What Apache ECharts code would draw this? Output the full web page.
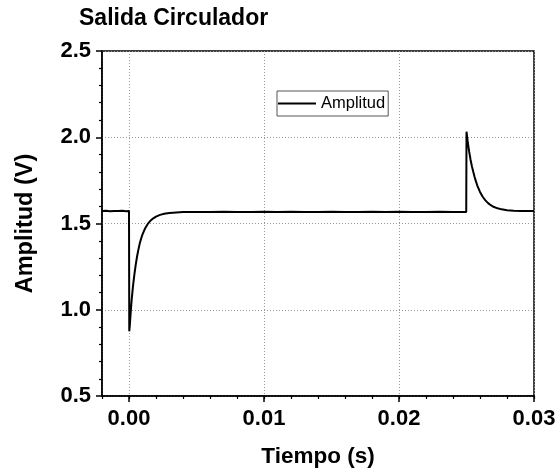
<!DOCTYPE html>
<html>
<head>
<meta charset="utf-8">
<script src="https://cdn.jsdelivr.net/npm/echarts@6/dist/echarts.min.js"></script>
<style>
html,body{margin:0;padding:0;background:#fff;}
#chart{width:559px;height:474px;}
</style>
</head>
<body>
<div id="chart"></div>
<script>
// ---- data ----
const titleText = 'Salida Circulador';
const xAxisName = 'Tiempo (s)';
const yAxisName = 'Amplitud (V)';
const seriesName = 'Amplitud';

const xTickLabels = [0.00, 0.01, 0.02, 0.03];
const yTickLabels = [0.5, 1.0, 1.5, 2.0, 2.5];

const timeValues = [
  -0.002, -0.0017, -0.0014, -0.0011, -0.0008, -0.0005, -0.0002, 0.0,
  0.00002, 0.00005, 0.0001, 0.00015, 0.0002, 0.0003, 0.0004, 0.0005,
  0.0006, 0.0007, 0.0008, 0.0009, 0.001, 0.0012, 0.0014, 0.0016,
  0.0018, 0.002, 0.0023, 0.0026, 0.003, 0.0035, 0.004, 0.005,
  0.006, 0.007, 0.008, 0.009, 0.010, 0.011, 0.012, 0.013,
  0.014, 0.015, 0.016, 0.017, 0.018, 0.019, 0.020, 0.021,
  0.022, 0.023, 0.024, 0.02498, 0.025, 0.02505, 0.0251, 0.0252,
  0.0253, 0.0254, 0.0255, 0.0256, 0.0257, 0.0258, 0.026, 0.0262,
  0.0264, 0.0266, 0.0268, 0.027, 0.0273, 0.0276, 0.028, 0.0285,
  0.029, 0.0295, 0.030
];
const amplitudeValues = [
  1.572, 1.574, 1.571, 1.573, 1.572, 1.574, 1.571, 1.573,
  0.875, 0.900, 0.955, 1.010, 1.060, 1.140, 1.205, 1.262,
  1.310, 1.350, 1.385, 1.413, 1.437, 1.473, 1.499, 1.517,
  1.530, 1.540, 1.550, 1.556, 1.561, 1.564, 1.566, 1.567,
  1.566, 1.568, 1.567, 1.566, 1.568, 1.567, 1.568, 1.566,
  1.567, 1.568, 1.567, 1.566, 1.568, 1.567, 1.568, 1.567,
  1.566, 1.568, 1.567, 1.567, 2.032, 2.000, 1.968, 1.915,
  1.870, 1.832, 1.800, 1.770, 1.744, 1.720, 1.683, 1.655,
  1.634, 1.618, 1.606, 1.597, 1.588, 1.582, 1.577, 1.574,
  1.573, 1.572, 1.573
];

const xMin = -0.002, xMax = 0.03;
const yMin = 0.5, yMax = 2.5;

const seriesData = timeValues.map((t, i) => [t, amplitudeValues[i]]);

const FONT = "'Liberation Sans', Arial, sans-serif";
const chart = echarts.init(document.getElementById('chart'), null, {renderer: 'canvas'});

chart.setOption({
  animation: false,
  backgroundColor: '#ffffff',
  title: {
    text: titleText,
    left: 79, top: 7, padding: 0,
    textStyle: {fontFamily: FONT, fontSize: 23, fontWeight: 'bold', color: '#000'}
  },
  legend: {
    data: [seriesName],
    left: 277, top: 91,
    padding: [4, 3, 4, 1],
    borderColor: '#555', borderWidth: 1,
    icon: 'rect', itemWidth: 38, itemHeight: 2,
    textStyle: {fontFamily: FONT, fontSize: 16.5, color: '#000'}
  },
  grid: {
    left: 102, right: 25, top: 51, bottom: 78,
    show: true, borderColor: '#000', borderWidth: 1.5, backgroundColor: 'transparent'
  },
  xAxis: [{
    type: 'value', min: xMin, max: xMax, splitNumber: 3,
    minInterval: 0.01, maxInterval: 0.01,
    name: xAxisName, nameLocation: 'middle', nameGap: 49,
    nameTextStyle: {fontFamily: FONT, fontSize: 22.5, fontWeight: 'bold', color: '#000'},
    axisLine: {show: true, onZero: false, lineStyle: {color: '#000', width: 1.5}},
    axisTick: {show: true, inside: false, length: 6, lineStyle: {color: '#000', width: 1.5}},
    minorTick: {show: false},
    axisLabel: {
      show: true, margin: 12, showMinLabel: false,
      fontFamily: FONT, fontSize: 22, fontWeight: 'bold', color: '#000',
      formatter: v => (xTickLabels.some(t => Math.abs(t - v) < 1e-9) ? v.toFixed(2) : '')
    },
    splitLine: {show: true, lineStyle: {color: '#999', type: [1, 2], width: 1}}
  }, {
    type: 'value', min: xMin, max: xMax, interval: 0.002, position: 'bottom',
    axisLine: {show: false, onZero: false},
    axisTick: {show: true, inside: false, length: 3, lineStyle: {color: '#000', width: 1.2}},
    axisLabel: {show: false},
    splitLine: {show: false}
  }],
  yAxis: {
    type: 'value', min: yMin, max: yMax, interval: 0.5,
    name: yAxisName, nameLocation: 'middle', nameGap: 64,
    nameTextStyle: {fontFamily: FONT, fontSize: 23.5, fontWeight: 'bold', color: '#000'},
    axisLine: {show: true, onZero: false, lineStyle: {color: '#000', width: 1.5}},
    axisTick: {show: true, inside: false, length: 6, lineStyle: {color: '#000', width: 1.5}},
    minorTick: {show: true, splitNumber: 5, length: 3, lineStyle: {color: '#000', width: 1.2}},
    axisLabel: {
      margin: 11,
      fontFamily: FONT, fontSize: 22, fontWeight: 'bold', color: '#000',
      formatter: v => v.toFixed(1)
    },
    splitLine: {show: true, lineStyle: {color: '#999', type: [1, 2], width: 1}}
  },
  series: [{
    name: seriesName,
    type: 'line',
    xAxisIndex: 0,
    data: seriesData,
    showSymbol: false,
    symbol: 'none',
    lineStyle: {color: '#000', width: 2},
    itemStyle: {color: '#000'}
  }]
});
</script>
</body>
</html>
